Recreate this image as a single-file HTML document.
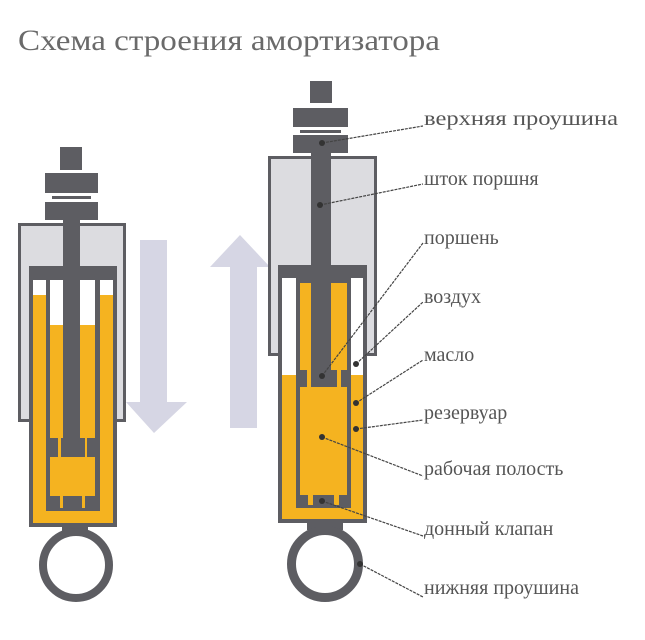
<!DOCTYPE html>
<html><head><meta charset="utf-8"><style>
html,body{margin:0;padding:0;background:#fff;}
svg{display:block;}
text{font-family:"Liberation Serif",serif;}
</style></head><body>
<svg width="645" height="640" viewBox="0 0 645 640" xmlns="http://www.w3.org/2000/svg">
<text x="18" y="50" font-size="30" fill="#6a6a6a" textLength="422" lengthAdjust="spacingAndGlyphs">Схема строения амортизатора</text>

<!-- LEFT SHOCK -->
<g>
<rect x="60" y="147" width="22" height="23" fill="#5d5d62"/>
<rect x="45" y="173" width="53" height="20" fill="#5d5d62"/>
<rect x="52" y="196" width="39" height="3" fill="#5d5d62"/>
<rect x="45" y="202" width="53" height="18" fill="#5d5d62"/>
<rect x="19.5" y="224.5" width="105" height="196" fill="#dcdce0" stroke="#5d5d62" stroke-width="3"/>
<rect x="63" y="220" width="17" height="50" fill="#5d5d62"/>
<rect x="29" y="266" width="88" height="261" fill="#5d5d62"/>
<rect x="33" y="280" width="80" height="243" fill="#f5b320"/>
<rect x="33" y="280" width="13" height="15" fill="#fff"/>
<rect x="100" y="280" width="13" height="15" fill="#fff"/>
<rect x="46" y="280" width="4" height="231" fill="#5d5d62"/>
<rect x="95" y="280" width="5" height="231" fill="#5d5d62"/>
<rect x="46" y="508" width="54" height="3" fill="#5d5d62"/>
<rect x="50" y="280" width="13" height="45" fill="#fff"/>
<rect x="80" y="280" width="15" height="45" fill="#fff"/>
<rect x="63" y="270" width="17" height="187" fill="#5d5d62"/>
<rect x="50" y="438" width="8" height="19" fill="#5d5d62"/>
<rect x="87" y="438" width="8" height="19" fill="#5d5d62"/>
<rect x="61" y="438" width="24" height="19" fill="#5d5d62"/>
<rect x="50" y="496" width="10" height="14" fill="#5d5d62"/>
<rect x="63" y="496" width="19" height="14" fill="#5d5d62"/>
<rect x="85" y="496" width="10" height="14" fill="#5d5d62"/>
<rect x="62" y="525" width="26" height="8" fill="#5d5d62"/>
<circle cx="76" cy="565" r="33" fill="none" stroke="#5d5d62" stroke-width="8"/>
</g>
<polygon points="140,240 167,240 167,402 187,402 154,433 126,402 140,402" fill="#d6d6e4"/>

<!-- RIGHT SHOCK -->
<polygon points="230,428 257,428 257,267 270,267 240,235 210,267 230,267" fill="#d6d6e4"/>
<g>
<rect x="310" y="81" width="22" height="22" fill="#5d5d62"/>
<rect x="293" y="108" width="55" height="19" fill="#5d5d62"/>
<rect x="300" y="130" width="41" height="3" fill="#5d5d62"/>
<rect x="293" y="135" width="55" height="18" fill="#5d5d62"/>
<rect x="269.5" y="157.5" width="106" height="197" fill="#dcdce0" stroke="#5d5d62" stroke-width="3"/>
<rect x="311" y="153" width="20" height="115" fill="#5d5d62"/>
<rect x="278" y="265" width="89" height="258" fill="#5d5d62"/>
<rect x="282" y="278" width="81" height="241" fill="#f5b320"/>
<rect x="282" y="278" width="14" height="97" fill="#fff"/>
<rect x="351" y="278" width="12" height="97" fill="#fff"/>
<rect x="296" y="278" width="4" height="230" fill="#5d5d62"/>
<rect x="347" y="278" width="4" height="230" fill="#5d5d62"/>
<rect x="296" y="505" width="55" height="3" fill="#5d5d62"/>
<rect x="300" y="278" width="11" height="5" fill="#5d5d62"/>
<rect x="331" y="278" width="16" height="5" fill="#5d5d62"/>
<rect x="311" y="268" width="20" height="102" fill="#5d5d62"/>
<rect x="311" y="370" width="26" height="17" fill="#5d5d62"/>
<rect x="300" y="370" width="7" height="17" fill="#5d5d62"/>
<rect x="341" y="370" width="6" height="17" fill="#5d5d62"/>
<rect x="300" y="495" width="8" height="13" fill="#5d5d62"/>
<rect x="313" y="495" width="21" height="13" fill="#5d5d62"/>
<rect x="339" y="495" width="8" height="13" fill="#5d5d62"/>
<rect x="307" y="521" width="36" height="9" fill="#5d5d62"/>
<circle cx="325" cy="564" r="33.5" fill="none" stroke="#5d5d62" stroke-width="9"/>
</g>

<!-- leader lines -->
<g stroke="#444" stroke-width="1.2" stroke-dasharray="3,1" fill="none">
<line x1="322" y1="143" x2="423" y2="126"/>
<line x1="320" y1="205" x2="423" y2="184"/>
<line x1="322" y1="376" x2="423" y2="243"/>
<line x1="356" y1="364" x2="423" y2="302"/>
<line x1="356" y1="403" x2="423" y2="360"/>
<line x1="356" y1="429" x2="423" y2="420"/>
<line x1="322" y1="437" x2="423" y2="476"/>
<line x1="322" y1="501" x2="423" y2="536"/>
<line x1="360" y1="564" x2="423" y2="597"/>
</g>
<g fill="#333">
<circle cx="322" cy="143" r="3"/><circle cx="320" cy="205" r="3"/><circle cx="322" cy="376" r="3"/>
<circle cx="356" cy="364" r="3"/><circle cx="356" cy="403" r="3"/><circle cx="356" cy="429" r="3"/>
<circle cx="322" cy="437" r="3"/><circle cx="322" cy="501" r="3"/><circle cx="360" cy="564" r="3"/>
</g>
<g font-size="20" fill="#555">
<text x="424" y="125" textLength="194" lengthAdjust="spacingAndGlyphs">верхняя проушина</text>
<text x="424" y="185">шток поршня</text>
<text x="424" y="244">поршень</text>
<text x="424" y="303">воздух</text>
<text x="424" y="361">масло</text>
<text x="424" y="419">резервуар</text>
<text x="424" y="475">рабочая полость</text>
<text x="424" y="535">донный клапан</text>
<text x="424" y="594">нижняя проушина</text>
</g>
</svg>
</body></html>
